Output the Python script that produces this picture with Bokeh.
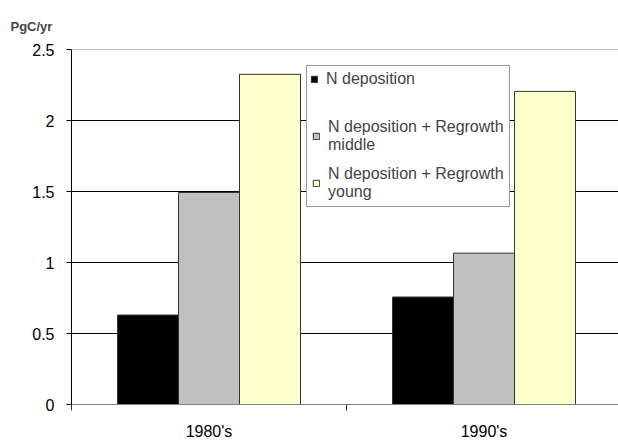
from bokeh.plotting import figure
from bokeh.models import (Range1d, FixedTicker, Legend, LegendItem, Span,
                          ColumnDataSource)
from bokeh.embed import file_html
from bokeh.resources import INLINE

categories = ["1980's", "1990's"]
series_names = ["N deposition",
                "N deposition + Regrowth\nmiddle",
                "N deposition + Regrowth\nyoung"]
n_dep = [0.63, 0.757]
n_dep_mid = [1.493, 1.066]
n_dep_young = [2.325, 2.205]
y_ticks = [0, 0.5, 1, 1.5, 2, 2.5]
y_tick_labels = ["0", "0.5", "1", "1.5", "2", "2.5"]
unit_label = "PgC/yr"

series_values = [n_dep, n_dep_mid, n_dep_young]
colors = ["#000000", "#C0C0C0", "#FFFFCC"]
FONT = "Liberation Sans"

centers = [i + 0.5 for i in range(len(categories))]
bar_w = 0.2218
offsets = [-bar_w, 0.0, bar_w]

p = figure(width=618, height=442, output_backend="svg", toolbar_location=None,
           x_range=Range1d(0, 1.989), y_range=Range1d(0, 2.5),
           min_border_top=49, min_border_left=71, min_border_right=0,
           min_border_bottom=0)
p.outline_line_color = None
p.background_fill_color = "white"
p.border_fill_color = "white"

renderers = []
for vals, off, col in zip(series_values, offsets, colors):
    src = ColumnDataSource(dict(x=[c + off for c in centers], top=vals))
    r = p.vbar(x="x", top="top", bottom=0, width=bar_w, source=src,
               fill_color=col, line_color="#333333", line_width=1)
    renderers.append(r)

# invisible placeholder used only to reserve the first legend row
placeholder = p.vbar(x=[], top=[], bottom=0, width=bar_w,
                     fill_alpha=0, line_alpha=0)

# grid
p.xgrid.visible = False
p.ygrid.ticker = FixedTicker(ticks=[0.5, 1, 1.5, 2])
p.ygrid.grid_line_color = "black"
p.ygrid.grid_line_width = 1
p.add_layout(Span(location=2.5, dimension="width", line_color="#808080", line_width=1))

# y axis
p.yaxis.ticker = FixedTicker(ticks=y_ticks)
p.yaxis.major_label_overrides = {t: l for t, l in zip(y_ticks, y_tick_labels)}
p.yaxis.axis_line_color = "black"
p.yaxis.major_tick_line_color = "black"
p.yaxis.major_tick_out = 5
p.yaxis.major_tick_in = 0
p.yaxis.minor_tick_line_color = None
p.yaxis.major_label_standoff = 12
p.yaxis.major_label_text_font = FONT
p.yaxis.major_label_text_font_size = "16px"
p.yaxis.major_label_text_color = "black"

# x axis
p.xaxis.ticker = FixedTicker(ticks=centers, minor_ticks=[0, 1, 2])
p.xaxis.major_label_overrides = {c: l for c, l in zip(centers, categories)}
p.xaxis.axis_line_color = "#808080"
p.xaxis.major_tick_line_color = None
p.xaxis.major_tick_out = 0
p.xaxis.major_tick_in = 0
p.xaxis.minor_tick_line_color = "#333333"
p.xaxis.minor_tick_out = 6
p.xaxis.minor_tick_in = 0
p.xaxis.major_label_standoff = 12
p.xaxis.major_label_text_font = FONT
p.xaxis.major_label_text_font_size = "16px"
p.xaxis.major_label_text_color = "black"

# unit label as title
p.title.text = unit_label
p.title.align = "left"
p.title.offset = -61
p.title.text_font = FONT
p.title.text_font_size = "13px"
p.title.text_font_style = "bold"
p.title.standoff = 32


def style_legend(lg):
    lg.label_text_font = FONT
    lg.label_text_font_size = "16px"
    lg.glyph_width = 8
    lg.glyph_height = 8
    lg.label_standoff = 8
    lg.padding = 5
    lg.spacing = 11
    lg.margin = 0


# framed legend: rows 2 and 3, with a blank first row reserved
legend = Legend(items=[LegendItem(label="\u00a0\n\u00a0", renderers=[placeholder])] +
                      [LegendItem(label=n, renderers=[r])
                       for n, r in zip(series_names[1:], renderers[1:])],
                location=(235, 197))
style_legend(legend)
legend.border_line_color = "#333333"
legend.border_line_width = 1
legend.background_fill_color = "white"
legend.background_fill_alpha = 1
p.add_layout(legend, "center")

# first row drawn on top as a single-line entry
legend1 = Legend(items=[LegendItem(label=series_names[0], renderers=[renderers[0]])],
                 location=(239, 316))
style_legend(legend1)
legend1.border_line_color = None
legend1.background_fill_alpha = 0
p.add_layout(legend1, "center")

open("out.html", "w").write(file_html(p, INLINE))
